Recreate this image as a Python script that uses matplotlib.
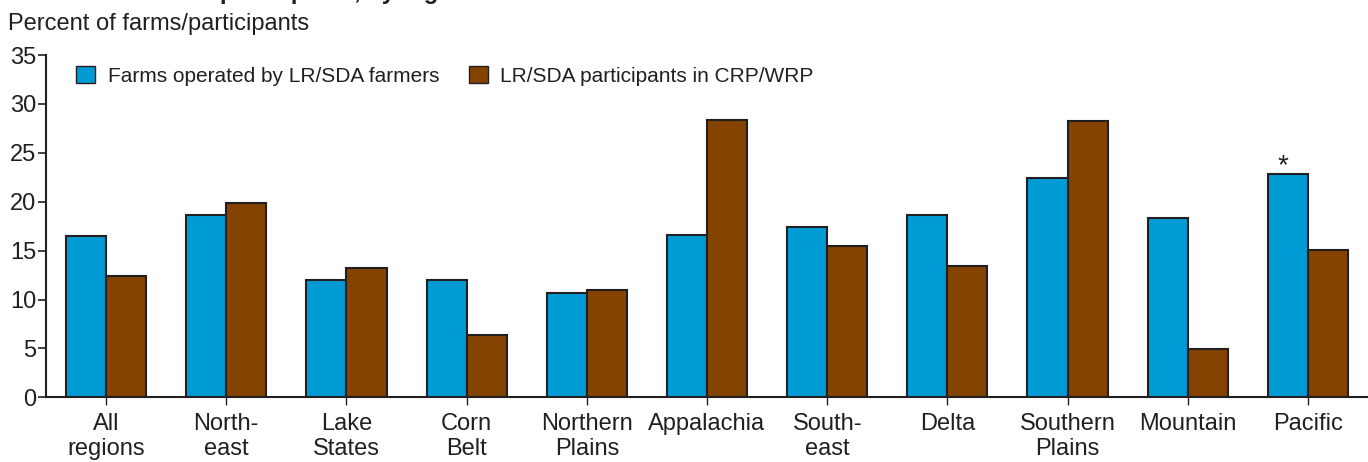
import matplotlib
matplotlib.use("Agg")
import matplotlib.pyplot as plt
from matplotlib.patches import Patch
import numpy as np

categories = ["All\nregions", "North-\neast", "Lake\nStates", "Corn\nBelt", "Northern\nPlains",
              "Appalachia", "South-\neast", "Delta", "Southern\nPlains", "Mountain", "Pacific"]
farms_lr_sda = [16.5, 18.6, 12.0, 12.0, 10.7, 16.6, 17.4, 18.6, 22.4, 18.3, 22.8]
crp_wrp = [12.4, 19.9, 13.2, 6.4, 11.0, 28.4, 15.5, 13.4, 28.3, 4.9, 15.1]
series_names = ["Farms operated by LR/SDA farmers", "LR/SDA participants in CRP/WRP"]
yticks = [0, 5, 10, 15, 20, 25, 30, 35]
star_index = 10

BLUE = "#009bd5"
BROWN = "#844300"
EDGE = "#231f20"

plt.rcParams['font.family'] = ['Liberation Sans', 'DejaVu Sans']

W, H = 1368, 462
fig = plt.figure(figsize=(W / 100, H / 100), dpi=100)
ax = fig.add_axes([46 / W, 1 - 397.3 / H, (W - 46) / W, 342.3 / H])

x = np.arange(len(categories))
w = 1 / 3
ax.bar(x - w / 2, farms_lr_sda, w, color=BLUE, edgecolor=EDGE, linewidth=1.5, zorder=3)
ax.bar(x + w / 2, crp_wrp, w, color=BROWN, edgecolor=EDGE, linewidth=1.5, zorder=3)

ax.text(x[star_index] - w / 2 - 0.04, farms_lr_sda[star_index] - 0.5, "*", ha="center", va="bottom",
        fontsize=20, color=EDGE)

ax.set_xlim(-0.5, 10.5)
ax.set_ylim(0, 35)
ax.set_yticks(yticks)
ax.set_xticks(x)
ax.set_xticklabels(categories, linespacing=1.2)
ax.tick_params(axis="y", direction="out", length=5.5, width=1.2, pad=1.5, labelsize=17,
               color=EDGE, labelcolor=EDGE)
ax.tick_params(axis="x", direction="out", length=5.8, width=1.0, pad=5.5, labelsize=17,
               color=EDGE, labelcolor=EDGE)
for s in ["top", "right"]:
    ax.spines[s].set_visible(False)
for s in ["left", "bottom"]:
    ax.spines[s].set_color(EDGE)
    ax.spines[s].set_linewidth(1.5)

handles = [Patch(facecolor=BLUE, edgecolor=EDGE, linewidth=1.0),
           Patch(facecolor=BROWN, edgecolor=EDGE, linewidth=1.0)]
ax.legend(handles, series_names, loc="center left", bbox_to_anchor=(30 / 1322, (397.3 - 76) / 342.3),
          ncol=2, frameon=False, fontsize=15, handlelength=0.93, handleheight=0.9,
          handletextpad=0.6, columnspacing=1.4, borderpad=0, borderaxespad=0,
          labelcolor=EDGE)

fig.text(8 / W, 1 - 30 / H, "Percent of farms/participants", fontsize=17, color=EDGE,
         ha="left", va="baseline")
fig.text(474 / W, 1 + 1 / H, "LR/SDA farms and participants, by region", fontsize=17,
         fontweight="bold", color=EDGE, ha="right", va="baseline")

fig.savefig("out.png", dpi=100)
